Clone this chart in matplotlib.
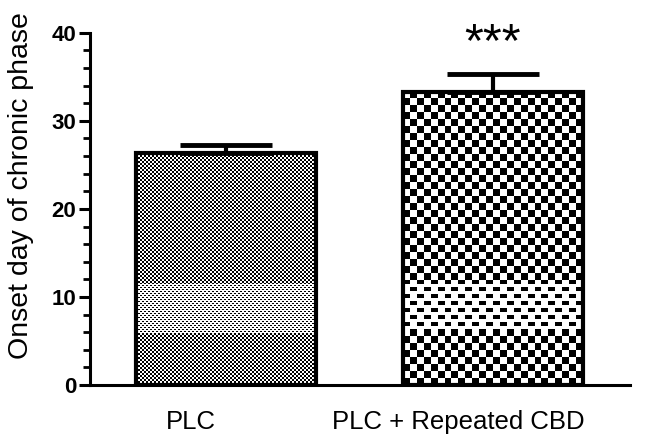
import numpy as np
import matplotlib
matplotlib.use("Agg")
import matplotlib.pyplot as plt
import matplotlib.transforms as mtransforms

gruppen = ["PLC", "PLC + Repeated CBD"]
mittelwerte = [26.3, 33.3]
fehler = [1.0, 2.0]
signifikanz = ["", "***"]
hell_band = (5.8, 11.6)  # hellerer Streifen im Raster (Druckartefakt)

plt.rcParams["font.family"] = ["Liberation Sans", "DejaVu Sans"]

fig = plt.figure(figsize=(6.48, 4.38), dpi=100)
ax = fig.add_axes([0.139, 0.121, 0.833, 0.804])

x = np.arange(len(gruppen))
breite = 0.674
balken = ax.bar(x, mittelwerte, width=breite, facecolor="none",
                edgecolor="black", linewidth=3, zorder=3)


def schachbrett(nx, ny, hoehe, band):
    # jede Zelle vertikal zweigeteilt, im Band nur obere Hälfte dunkel
    ii, jj = np.meshgrid(np.arange(nx), np.arange(2 * ny))
    feld = ((ii + jj // 2) % 2).astype(float)
    y = (jj + 0.5) / (2 * ny) * hoehe
    im_band = (y >= band[0]) & (y <= band[1]) & (jj % 2 == 0)
    feld[im_band] = 1.0
    return feld


zellen = [(90, 116), (26, 42)]
for b, (nx, ny) in zip(balken, zellen):
    x0 = b.get_x()
    h = b.get_height()
    m = schachbrett(nx, ny, h, hell_band)
    im = ax.imshow(m, cmap="gray", vmin=0, vmax=1, origin="lower",
                   extent=[x0, x0 + b.get_width(), 0, h],
                   interpolation="nearest", aspect="auto", zorder=2)
    im.set_clip_path(b)

ax.errorbar(x, mittelwerte, yerr=[[0, 0], fehler], fmt="none", ecolor="black",
            elinewidth=3, capsize=33, capthick=3.5, zorder=4)

for xi, m, f, s in zip(x, mittelwerte, fehler, signifikanz):
    if s:
        ax.text(xi, m + f + 0.9, s, ha="center", va="bottom", fontsize=35)

ax.set_xlim(-0.509, 1.513)
ax.set_ylim(0, 40)
ax.set_yticks([0, 10, 20, 30, 40])
ax.set_yticks(np.arange(0, 41, 2), minor=True)
ax.set_xticks(x)
ax.set_xticklabels(gruppen, fontsize=18.5)
ax.tick_params(axis="x", length=0, pad=18)
ax.tick_params(axis="y", which="major", length=8, width=2.2, labelsize=16, pad=2)
ax.tick_params(axis="y", which="minor", length=5, width=2)
for t in ax.get_yticklabels():
    t.set_fontweight("bold")
# Beschriftungen sitzen im Original etwas links der Balkenmitte
versatz = mtransforms.ScaledTranslation(-35 / 100, 0, fig.dpi_scale_trans)
for t in ax.get_xticklabels():
    t.set_transform(t.get_transform() + versatz)
ax.set_ylabel("Onset day of chronic phase", fontsize=20.5)
ax.yaxis.set_label_coords(-0.104, 0.566)

for seite in ["top", "right"]:
    ax.spines[seite].set_visible(False)
for seite in ["left", "bottom"]:
    ax.spines[seite].set_linewidth(2.2)

fig.savefig("out.png", dpi=100)
